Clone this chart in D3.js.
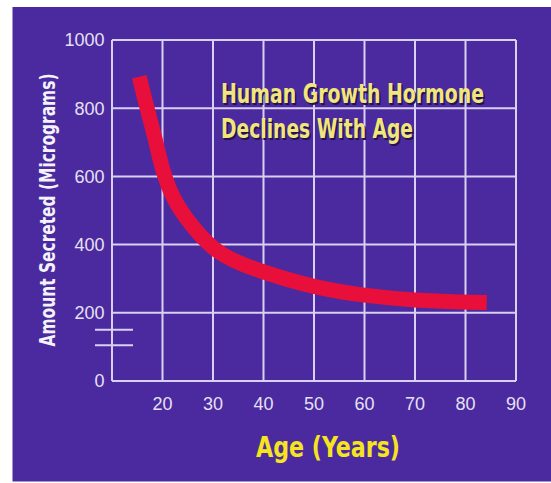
<!DOCTYPE html>
<html>
<head>
<meta charset="utf-8">
<script src="https://cdn.jsdelivr.net/npm/d3@7"></script>
<style>
  body { margin: 0; background: #fff; }
  svg { display: block; }
</style>
</head>
<body>
<svg width="551" height="483"></svg>
<script>
// Data
var ages = [15.4, 17, 18.5, 20, 22, 25, 30, 35, 40, 50, 60, 70, 80, 84.2];
var amounts = [892, 795, 715, 615, 537, 468, 384, 346, 319, 274, 250, 236, 231, 230];
var xTicks = [20, 30, 40, 50, 60, 70, 80, 90];
var yTicks = [0, 200, 400, 600, 800, 1000];
var xGrid = [10, 20, 30, 40, 50, 60, 70, 80, 90];
var breakMarks = [150, 105];
var titleLines = ["Human Growth Hormone", "Declines With Age"];

var svg = d3.select("svg"),
  width = +svg.attr("width"),
  height = +svg.attr("height");

var condensed = "'Liberation Sans Narrow', 'DejaVu Sans Condensed', 'Arial Narrow', sans-serif";

// purple panel
svg.append("rect")
  .attr("x", 12.5).attr("y", 7)
  .attr("width", width - 12.5).attr("height", 474.5)
  .attr("fill", "#4a2a9e");

var x = d3.scaleLinear().domain([10, 90]).range([112, 516]);
var y = d3.scaleLinear().domain([0, 1000]).range([381, 40]);

var gridColor = "#d9d0f2";

// grid
var grid = svg.append("g");
grid.selectAll(".h")
  .data(yTicks)
  .enter()
  .append("line")
  .attr("x1", x(10)).attr("x2", x(90))
  .attr("y1", function (d) { return y(d); })
  .attr("y2", function (d) { return y(d); })
  .attr("stroke", gridColor).attr("stroke-width", 2);

grid.selectAll(".v")
  .data(xGrid)
  .enter()
  .append("line")
  .attr("x1", function (d) { return x(d); })
  .attr("x2", function (d) { return x(d); })
  .attr("y1", y(1000)).attr("y2", y(0))
  .attr("stroke", gridColor).attr("stroke-width", 2);

// axis break marks
grid.selectAll(".brk")
  .data(breakMarks)
  .enter()
  .append("line")
  .attr("x1", 95).attr("x2", 133)
  .attr("y1", function (d) { return y(d); })
  .attr("y2", function (d) { return y(d); })
  .attr("stroke", gridColor).attr("stroke-width", 2);

// tick labels
svg.append("g")
  .selectAll("text")
  .data(yTicks)
  .enter()
  .append("text")
  .attr("x", 104.5)
  .attr("y", function (d) { return y(d); })
  .attr("dy", "0.36em")
  .attr("text-anchor", "end")
  .attr("font-family", "'Liberation Sans', Arial, sans-serif")
  .attr("font-size", 18)
  .attr("fill", "#e6e0f4")
  .text(function (d) { return d; });

svg.append("g")
  .selectAll("text")
  .data(xTicks)
  .enter()
  .append("text")
  .attr("x", function (d) { return x(d); })
  .attr("y", 404)
  .attr("dy", "0.36em")
  .attr("text-anchor", "middle")
  .attr("font-family", "'Liberation Sans', Arial, sans-serif")
  .attr("font-size", 18)
  .attr("fill", "#e6e0f4")
  .text(function (d) { return d; });

// the curve
var line = d3.line()
  .x(function (d, i) { return x(ages[i]); })
  .y(function (d) { return y(d); })
  .curve(d3.curveBasis);

svg.append("path")
  .attr("d", line(amounts))
  .attr("fill", "none")
  .attr("stroke", "#e8103a")
  .attr("stroke-width", 15)
  .attr("stroke-linecap", "butt");

// title with a dark shadow
var title = svg.append("g");
[[1.5, "#22124f"], [0, "#f1e67c"]].forEach(function (s) {
  title.selectAll(null)
    .data(titleLines)
    .enter()
    .append("text")
    .attr("x", 221 + s[0])
    .attr("y", function (d, i) { return 103 + i * 35 + s[0]; })
    .attr("font-family", condensed)
    .attr("font-weight", "bold")
    .attr("font-size", 26)
    .attr("textLength", function (d, i) { return i === 0 ? 263 : 192; })
    .attr("lengthAdjust", "spacingAndGlyphs")
    .attr("fill", s[1])
    .text(function (d) { return d; });
});

// axis titles
var yTitle = svg.append("text")
  .attr("text-anchor", "middle")
  .attr("font-family", condensed)
  .attr("font-weight", "bold")
  .attr("font-size", 22)
  .attr("fill", "#f4f2fa")
  .text("Amount Secreted (Micrograms)");
// squeeze it to the length seen in the picture
var yLen = yTitle.node().getComputedTextLength();
yTitle.attr("transform", "translate(55,210) rotate(-90) scale(" + (273 / yLen) + ",1)");

svg.append("text")
  .attr("x", 328)
  .attr("y", 457)
  .attr("text-anchor", "middle")
  .attr("font-family", condensed)
  .attr("font-weight", "bold")
  .attr("font-size", 29)
  .attr("textLength", 144)
  .attr("lengthAdjust", "spacingAndGlyphs")
  .attr("fill", "#f6e41e")
  .text("Age (Years)");
</script>
</body>
</html>
